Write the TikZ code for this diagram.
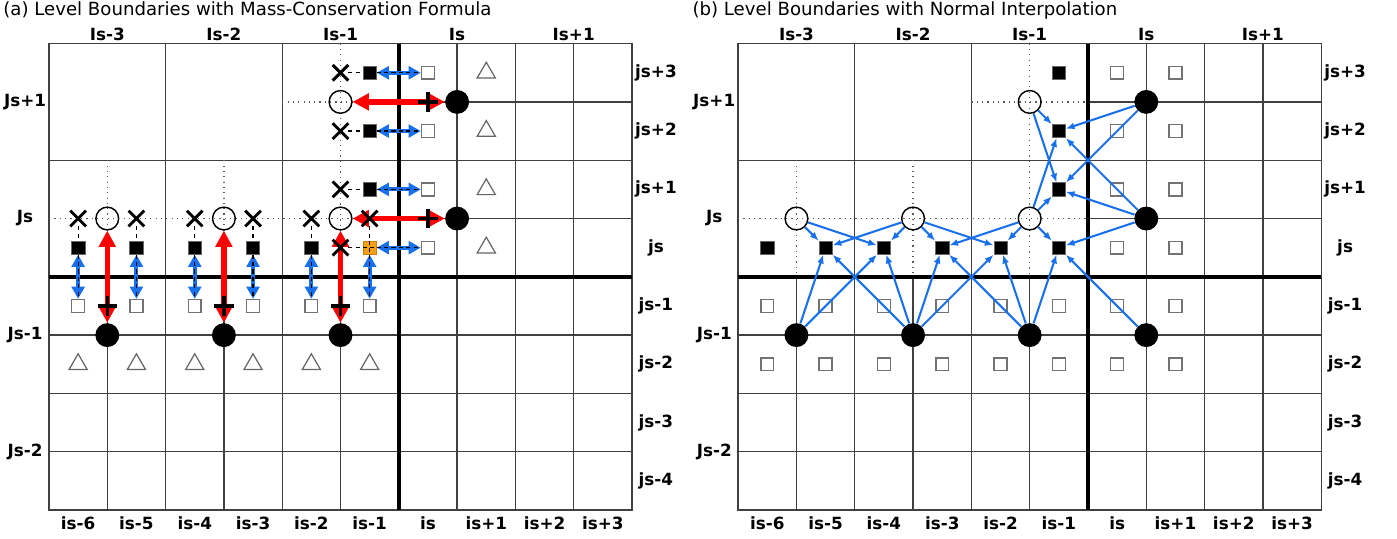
\documentclass[tikz,border=0pt]{standalone}
\usepackage{fontspec}
\setmainfont{DejaVu Sans}
\usetikzlibrary{arrows.meta,shapes.geometric,shapes.misc}
\definecolor{fluxred}{RGB}{255,0,0}
\definecolor{swapblue}{RGB}{24,112,236}
\definecolor{ghostorange}{RGB}{246,158,20}

\begin{document}
\begin{tikzpicture}[
    gridline/.style={black!75,line width=0.65pt},
    boundline/.style={black,line width=1.7pt},
    guide/.style={black!65,dotted,line width=0.6pt},
    opencirc/.style={circle,draw=black,line width=0.7pt,minimum size=0.39cm,inner sep=0pt},
    fullcirc/.style={circle,fill=black,minimum size=0.41cm,inner sep=0pt},
    ghostcell/.style={rectangle,fill=black,draw=black!60,line width=0.3pt,minimum size=0.23cm,inner sep=0pt},
    finecell/.style={rectangle,draw=black!55,fill=white,line width=0.7pt,minimum size=0.22cm,inner sep=0pt},
    tri/.style={regular polygon,regular polygon sides=3,draw=black!60,line width=0.6pt,minimum size=0.36cm,inner sep=0pt},
    xmark/.style={cross out,draw=black,line width=1.4pt,minimum size=0.22cm,inner sep=0pt},
    tickmark/.style={cross out,rotate=45,draw=black,line width=1.6pt,minimum size=0.18cm,inner sep=0pt},
    lab/.style={font=\bfseries\fontsize{8.2}{10}\selectfont,inner sep=0pt},
    titletext/.style={font=\fontsize{8.85}{10}\selectfont,inner sep=0pt,anchor=base west},
    link/.style={black,dash pattern=on 2pt off 1.6pt,line width=0.6pt},
    flux/.style={fluxred,line width=2.7pt,{Triangle[length=0.28cm,width=0.28cm]}-{Triangle[length=0.28cm,width=0.28cm]}},
    swap/.style={swapblue,line width=1.9pt,{Triangle[length=0.21cm,width=0.22cm]}-{Triangle[length=0.21cm,width=0.22cm]}},
    interp/.style={swapblue,line width=1pt,-{Latex[length=0.15cm,width=0.12cm]}}
  ]
  \useasboundingbox (-0.84,-0.48) rectangle (23.12,8.748);

  % grids, level boundaries and indices of both panels
  \foreach \px/\tag/\tit in {0/a/{(a) Level Boundaries with Mass-Conservation Formula},
                             11.82/b/{(b) Level Boundaries with Normal Interpolation}}{
    \begin{scope}[xshift=\px cm]
      \draw[gridline] (6,0) grid (10,8);
      \draw[gridline] (0,0) grid (6,4);
      \draw[gridline,step=2] (0,0) grid (10,8);
      \draw[gridline] (0,0) rectangle (10,8);
      \draw[boundline] (6,0) -- (6,8);
      \draw[boundline] (0,4) -- (10,4);
      % dotted guides through the coarse centres
      \draw[guide] (5,8) -- (5,4);
      \draw[guide] (4,7) -- (6,7);
      \draw[guide] (0,5) -- (6,5);
      \foreach \i in {1,3}
        \draw[guide] (\i,6) -- (\i,4);
      \node[titletext] (\tag-title) at (-0.79,8.49) {\tit};
      \foreach \i/\t in {1/Is-3,3/Is-2,5/Is-1,7/Is,9/Is+1}
        \node[lab,anchor=base] (\tag-I\i) at (\i,8.06) {\t};
      \foreach \i/\t in {0/is-6,1/is-5,2/is-4,3/is-3,4/is-2,5/is-1,6/is,7/is+1,8/is+2,9/is+3}
        \node[lab,anchor=base] (\tag-i\i) at (\i+0.5,-0.34) {\t};
      \foreach \j/\t in {7/Js+1,5/Js,3/Js-1,1/Js-2}
        \node[lab] (\tag-J\j) at (-0.41,\j) {\t};
      \foreach \j/\t in {7/js+3,6/js+2,5/js+1,4/js,3/js-1,2/js-2,1/js-3,0/js-4}
        \node[lab] (\tag-j\j) at (10.41,\j+0.5) {\t};
    \end{scope}
  }

  % (a) mass-conservation formula
  \begin{scope}
    \foreach \i/\j in {1/5,3/5,5/5,5/7}
      \node[opencirc] (a-c-\i-\j) at (\i,\j) {};
    \foreach \i/\j in {7/7,7/5,1/3,3/3,5/3}
      \node[fullcirc] (a-c-\i-\j) at (\i,\j) {};
    \foreach \i/\j in {5/7,5/6,5/5,0/4,1/4,2/4,3/4,4/4}
      \node[ghostcell] (a-g-\i-\j) at (\i+0.5,\j+0.5) {};
    \node[ghostcell,fill=ghostorange,draw=ghostorange!80!black] (a-g-5-4) at (5.5,4.5) {};
    \foreach \i/\j in {6/7,6/6,6/5,6/4,0/3,1/3,2/3,3/3,4/3,5/3}
      \node[finecell] (a-f-\i-\j) at (\i+0.5,\j+0.5) {};
    \foreach \i/\j in {7/7,7/6,7/5,7/4,0/2,1/2,2/2,3/2,4/2,5/2}
      \node[tri] (a-t-\i-\j) at (\i+0.5,\j+0.5) {};
    % exchange with the fine neighbours
    \foreach \j in {7,6,5,4}{
      \draw[swap] (a-g-5-\j) -- (a-f-6-\j);
      \draw[link] (a-g-5-\j) -- (a-f-6-\j);
    }
    \foreach \i in {0,...,5}{
      \draw[swap] (a-g-\i-4) -- (a-f-\i-3);
      \draw[link] (a-g-\i-4) -- (a-f-\i-3);
    }
    % fluxes across the level boundary
    \draw[flux] (a-c-5-7) -- (a-c-7-7);
    \draw[flux] (a-c-5-5) -- (a-c-7-5);
    \foreach \i in {1,3,5}
      \draw[flux] (a-c-\i-5) -- (a-c-\i-3);
    \foreach \x/\y/\n in {6.5/7/1,6.5/5/2,1/3.5/3,3/3.5/4,5/3.5/5}
      \node[tickmark] (a-p\n) at (\x,\y) {};
    % coarse values split onto the ghost cells
    \foreach \j in {7,6,5,4}
      \node[xmark] (a-xv\j) at (5,\j+0.5) {};
    \foreach \i in {0,...,5}
      \node[xmark] (a-xh\i) at (\i+0.5,5) {};
    \foreach \j in {7,6,5,4}
      \draw[link] (a-xv\j) -- (a-g-5-\j);
    \foreach \i in {0,...,5}
      \draw[link] (a-xh\i) -- (a-g-\i-4);
    \draw[link] (a-g-5-4.west) -- (a-g-5-4.east) (a-g-5-4.north) -- (a-g-5-4.south);
  \end{scope}

  % (b) normal interpolation
  \begin{scope}[xshift=11.82cm]
    \foreach \i/\j in {1/5,3/5,5/5,5/7}
      \node[opencirc] (b-c-\i-\j) at (\i,\j) {};
    \foreach \i/\j in {7/7,7/5,1/3,3/3,5/3,7/3}
      \node[fullcirc] (b-c-\i-\j) at (\i,\j) {};
    \foreach \i/\j in {0/4,1/4,2/4,3/4,4/4,5/4,5/5,5/6,5/7}
      \node[ghostcell] (b-g-\i-\j) at (\i+0.5,\j+0.5) {};
    \foreach \i/\j in {6/7,7/7,6/6,7/6,6/5,7/5,6/4,7/4}
      \node[finecell] (b-f-\i-\j) at (\i+0.5,\j+0.5) {};
    \foreach \i in {0,...,7}{
      \node[finecell] (b-f-\i-3) at (\i+0.5,3.5) {};
      \node[finecell] (b-f-\i-2) at (\i+0.5,2.5) {};
    }
    % bilinear weights from the four surrounding coarse centres
    \foreach \i/\j/\ci/\cj in {1/4/1/3,2/4/1/3,3/4/3/3,4/4/3/3,5/4/5/3,5/5/5/5,5/6/5/5}{
      \pgfmathtruncatemacro{\cii}{\ci+2}
      \pgfmathtruncatemacro{\cjj}{\cj+2}
      \draw[interp] (b-c-\ci-\cj) -- (b-g-\i-\j);
      \draw[interp] (b-c-\cii-\cj) -- (b-g-\i-\j);
      \draw[interp] (b-c-\ci-\cjj) -- (b-g-\i-\j);
      \draw[interp] (b-c-\cii-\cjj) -- (b-g-\i-\j);
    }
  \end{scope}
\end{tikzpicture}
\end{document}
